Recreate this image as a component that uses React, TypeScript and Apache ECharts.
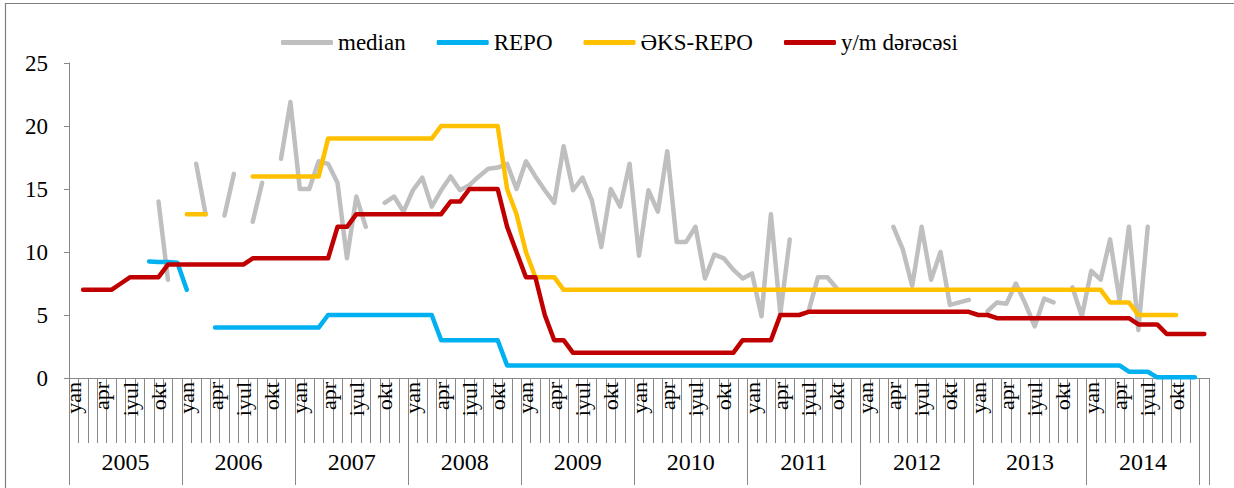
import React, { useEffect, useRef } from "react";
import * as echarts from "echarts";

// Category axis: monthly, Jan 2005 .. Dec 2014, plus one trailing empty category
const monthNames = ["yan", "fev", "mar", "apr", "may", "iyun", "iyul", "avq", "sen", "okt", "noy", "dek"];
const years = [2005, 2006, 2007, 2008, 2009, 2010, 2011, 2012, 2013, 2014];

const yTicks = [0, 5, 10, 15, 20, 25];

// median (one row per year, 12 months), last entry = trailing category
const median = [
  null, null, null, null, null, null, null, null, null, 14, 7.8, null,
  null, 17, 13, null, 12.9, 16.2, null, 12.4, 15.5, null, 17.4, 21.9,
  15, 15, 17.2, 17, 15.5, 9.5, 14.4, 12, null, 13.9, 14.4, 13.2,
  14.9, 15.9, 13.6, 14.9, 16, 14.9, 15.3, 16, 16.6, 16.7, 17, 15,
  17.2, 16, 14.9, 13.9, 18.4, 14.9, 15.9, 14.1, 10.4, 15, 13.6, 17,
  9.7, 14.9, 13.2, 18, 10.8, 10.8, 12, 7.9, 9.8, 9.5, 8.6, 7.9,
  8.3, 4.9, 13, 5.1, 11, null, 5.3, 8, 8, 7.1, null, null,
  null, null, null, 12, 10.2, 7.3, 12, 7.8, 10, 5.8, 6, 6.2,
  null, 5.3, 6, 5.9, 7.5, 5.9, 4.1, 6.3, 6, null, 7.2, 4.9,
  8.5, 7.8, 11, 6.2, 12, 3.8, 12, null, null, null, null, null,
  null,
];

const repo = [
  null, null, null, null, null, null, null, null, 9.25, 9.2, 9.2, 9.15,
  7, null, null, 4, 4, 4, 4, 4, 4, 4, 4, 4,
  4, 4, 4, 5, 5, 5, 5, 5, 5, 5, 5, 5,
  5, 5, 5, 3, 3, 3, 3, 3, 3, 3, 1, 1,
  1, 1, 1, 1, 1, 1, 1, 1, 1, 1, 1, 1,
  1, 1, 1, 1, 1, 1, 1, 1, 1, 1, 1, 1,
  1, 1, 1, 1, 1, 1, 1, 1, 1, 1, 1, 1,
  1, 1, 1, 1, 1, 1, 1, 1, 1, 1, 1, 1,
  1, 1, 1, 1, 1, 1, 1, 1, 1, 1, 1, 1,
  1, 1, 1, 1, 0.5, 0.5, 0.5, 0.05, 0.05, 0.05, 0.05, 0.05,
  null,
];

const eksRepo = [
  null, null, null, null, null, null, null, null, null, null, null, null,
  13, 13, 13, null, null, null, null, 16, 16, 16, 16, 16,
  16, 16, 16, 19, 19, 19, 19, 19, 19, 19, 19, 19,
  19, 19, 19, 20, 20, 20, 20, 20, 20, 20, 15, 13,
  10, 8, 8, 8, 7, 7, 7, 7, 7, 7, 7, 7,
  7, 7, 7, 7, 7, 7, 7, 7, 7, 7, 7, 7,
  7, 7, 7, 7, 7, 7, 7, 7, 7, 7, 7, 7,
  7, 7, 7, 7, 7, 7, 7, 7, 7, 7, 7, 7,
  7, 7, 7, 7, 7, 7, 7, 7, 7, 7, 7, 7,
  7, 7, 6, 6, 6, 5, 5, 5, 5, 5, null, null,
  null,
];

const ymRate = [
  null, 7, 7, 7, 7, 7.5, 8, 8, 8, 8, 9, 9,
  9, 9, 9, 9, 9, 9, 9, 9.5, 9.5, 9.5, 9.5, 9.5,
  9.5, 9.5, 9.5, 9.5, 12, 12, 13, 13, 13, 13, 13, 13,
  13, 13, 13, 13, 14, 14, 15, 15, 15, 15, 12, 10,
  8, 8, 5, 3, 3, 2, 2, 2, 2, 2, 2, 2,
  2, 2, 2, 2, 2, 2, 2, 2, 2, 2, 2, 3,
  3, 3, 3, 5, 5, 5, 5.25, 5.25, 5.25, 5.25, 5.25, 5.25,
  5.25, 5.25, 5.25, 5.25, 5.25, 5.25, 5.25, 5.25, 5.25, 5.25, 5.25, 5.25,
  5, 5, 4.75, 4.75, 4.75, 4.75, 4.75, 4.75, 4.75, 4.75, 4.75, 4.75,
  4.75, 4.75, 4.75, 4.75, 4.75, 4.25, 4.25, 4.25, 3.5, 3.5, 3.5, 3.5,
  3.5,
];

const seriesNames = ["median", "REPO", "ƏKS-REPO", "y/m dərəcəsi"];
const seriesColors = ["#BFBFBF", "#00B0F0", "#FFC000", "#C00000"];

const FONT = "Liberation Serif";

export default function App() {
  const ref = useRef<HTMLDivElement>(null);

  useEffect(() => {
    document.body.style.margin = "0";
    if (!ref.current) return;
    const chart = echarts.init(ref.current, undefined, { renderer: "svg" });

    const categories: string[] = [];
    years.forEach((y) => monthNames.forEach((m) => categories.push(m)));
    categories.push("");

    const total = categories.length; // 121
    const yearBounds: number[] = years.map((_, i) => i * 12);
    yearBounds.push(years.length * 12, total);
    const yearCenters: number[] = years.map((_, i) => i * 12 + 6);

    const datasets = [median, repo, eksRepo, ymRate];

    chart.setOption({
      animation: false,
      backgroundColor: "#fff",
      textStyle: { fontFamily: FONT },
      legend: {
        data: seriesNames,
        left: 276,
        top: 26,
        icon: "roundRect",
        itemWidth: 52,
        itemHeight: 5,
        itemGap: 31,
        textStyle: { fontFamily: FONT, fontSize: 23, color: "#000" },
      },
      grid: { left: 69, right: 25, top: 63, bottom: 110, containLabel: false },
      xAxis: [
        {
          type: "category",
          data: categories,
          boundaryGap: true,
          axisLine: { lineStyle: { color: "#888", width: 1 } },
          axisTick: { show: true, interval: 0, length: 65, lineStyle: { color: "#888" } },
          axisLabel: {
            interval: (i: number) => i % 3 === 0 && i < years.length * 12,
            rotate: 90,
            margin: 4,
            fontFamily: FONT,
            fontSize: 22,
            color: "#000",
          },
          splitLine: { show: false },
        },
        {
          type: "value",
          min: 0,
          max: total,
          position: "bottom",
          axisLine: { show: false },
          splitLine: { show: false },
          axisTick: {
            show: true,
            customValues: yearBounds,
            length: 107,
            lineStyle: { color: "#888" },
          },
          axisLabel: {
            customValues: yearCenters,
            formatter: (v: number) => String(years[Math.round((v - 6) / 12)]),
            margin: 72,
            fontFamily: FONT,
            fontSize: 24,
            color: "#000",
          },
        },
      ],
      yAxis: {
        type: "value",
        min: yTicks[0],
        max: yTicks[yTicks.length - 1],
        interval: 5,
        axisLine: { show: true, lineStyle: { color: "#888" } },
        axisTick: { show: true, length: 5, lineStyle: { color: "#888" } },
        splitLine: { show: false },
        axisLabel: { fontFamily: FONT, fontSize: 23, color: "#000", margin: 21 },
      },
      series: datasets.map((d, i) => ({
        name: seriesNames[i],
        type: "line",
        data: d,
        xAxisIndex: 0,
        color: seriesColors[i],
        symbol: "none",
        connectNulls: false,
        lineStyle: { color: seriesColors[i], width: 4.5, cap: "round", join: "round" },
      })),
      graphic: [
        {
          type: "rect",
          z: 100,
          silent: true,
          shape: { x: 5.5, y: 3.5, width: 1260, height: 520 },
          style: { fill: "none", stroke: "#7f7f7f", lineWidth: 1.2 },
        },
      ],
    });

    return () => chart.dispose();
  }, []);

  return <div ref={ref} style={{ width: 1234, height: 488 }} />;
}
